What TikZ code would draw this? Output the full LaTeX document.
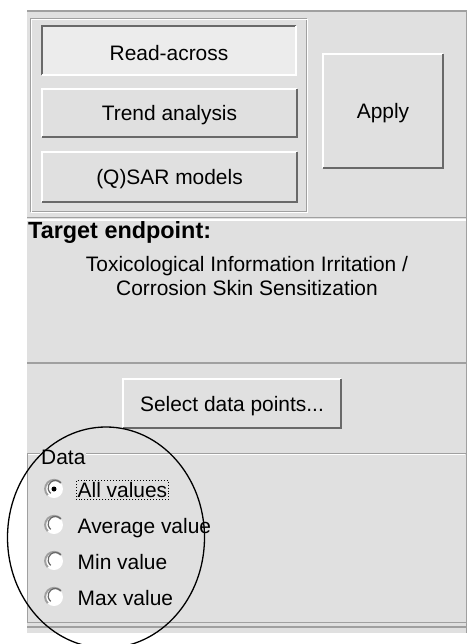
\documentclass[tikz,border=0pt]{standalone}
\usepackage{fontspec}
\setmainfont{Liberation Sans}
\usepackage{tikz}

\definecolor{panel}{RGB}{224,224,224}
\definecolor{pressed}{RGB}{236,236,236}
\definecolor{edge}{RGB}{160,160,160}
\definecolor{darkedge}{RGB}{105,105,105}

\begin{document}
\begin{tikzpicture}[x=1bp, y=-1bp,
  font=\fontsize{21}{25}\selectfont,
  btn/.style={fill=panel, draw=none, inner sep=0pt, text height=15bp, text depth=0bp},
  radio/.style={circle, fill=white, inner sep=0pt, minimum size=18bp},
  opt/.style={anchor=west, inner sep=1.5bp, text height=15bp, text depth=1bp}]

\useasboundingbox (0,0) rectangle (469,644);
\fill[white] (0,0) rectangle (469,644);

% panels
\fill[panel] (27,11) rectangle (467,633);
\draw[edge, line width=1.5] (27,11) -- (466.5,11) -- (466.5,633);
\draw[edge, line width=1.5] (27,217.5) -- (466.5,217.5);
\draw[white, line width=1.5] (27,220) -- (466,220);
\draw[edge, line width=1.5] (27,363) -- (466.5,363);
\draw[edge, line width=1.5] (27,627) -- (466.5,627);

% group round the three methods
\draw[edge] (30,18) rectangle (306,211);
\draw[white] (31,19) rectangle (307,212);

% buttons
\node[btn, fill=pressed, minimum width=254bp, minimum height=49bp] (read) at (169,50.5) {};
\node at (169,53) {Read-across};
\node[btn, minimum width=255bp, minimum height=48bp] (trend) at (169.5,113) {Trend analysis};
\node[btn, minimum width=255bp, minimum height=50bp] (qsar) at (169.5,177) {(Q)SAR models};
\node[btn, minimum width=120bp, minimum height=114bp] (apply) at (383,111) {Apply};
\node[btn, minimum width=218bp, minimum height=49bp] (select) at (232,403.5) {Select data points...};

\foreach \b in {trend,qsar,apply,select} {
  \draw[white, line width=1.5] (\b.south west) |- (\b.north east);
  \draw[darkedge, line width=2] (\b.south west) -| (\b.north east);
}
\draw[darkedge, line width=2.5] (read.south west) |- (read.north east);
\draw[white, line width=1.5] (read.south west) -| (read.north east);

% target endpoint
\node[anchor=west, inner sep=0pt, font=\fontsize{23.5}{25}\selectfont\bfseries] (tgt) at (28,232) {Target endpoint:};
\node[align=center, inner sep=0pt] (tgttext) at (247,276) {Toxicological Information Irritation /\\Corrosion Skin Sensitization};

% data group
\draw[edge] (27,453) rectangle (466,622);
\draw[white] (28,454) -- (465,454);
\node[fill=panel, anchor=west, inner sep=1bp] (data) at (40,457) {Data};

\foreach \i/\t in {1/All values,2/Average value,3/Min value,4/Max value} {
  \node[radio] (r\i) at (54,453+36*\i) {};
  \draw[edge, line width=2] (r\i.45) arc[start angle=45, end angle=225, radius=9bp];
  \draw[darkedge, line width=1.2] (r\i.40) arc[start angle=40, end angle=230, radius=7.3bp];
  \node[opt] (o\i) at (76,454+36*\i) {\t};
}
\fill[black] (r1) circle[radius=2.5bp];
\draw[dotted, line width=1] (o1.south west) rectangle (o1.north east);

% highlight
\draw[line width=1.3] (106,537.5) ellipse[x radius=98.5, y radius=110.5];

\end{tikzpicture}
\end{document}
